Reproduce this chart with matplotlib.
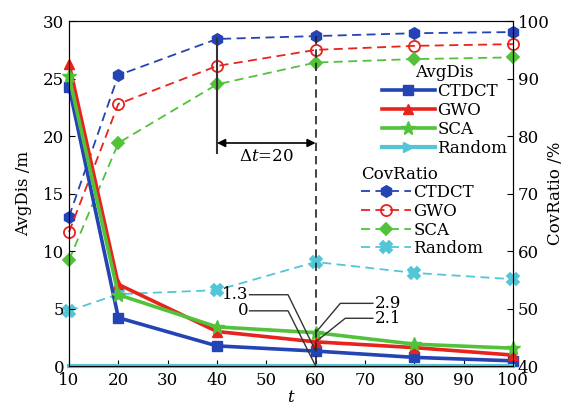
import numpy as np
import matplotlib.pyplot as plt
from matplotlib.lines import Line2D

plt.rcParams['font.family'] = 'DejaVu Serif'
plt.rcParams['mathtext.fontset'] = 'dejavuserif'
plt.rcParams['font.size'] = 12

t = [10, 20, 40, 60, 80, 100]

# AvgDis /m (left axis)
dis_ctdct = [24.3, 4.2, 1.75, 1.3, 0.75, 0.45]
dis_gwo = [26.3, 7.1, 3.0, 2.1, 1.6, 0.95]
dis_sca = [25.2, 6.2, 3.4, 2.9, 1.9, 1.55]
dis_random = [0, 0, 0, 0, 0, 0]

# CovRatio /% (right axis)
cov_ctdct = [66.0, 90.6, 96.9, 97.4, 97.9, 98.1]
cov_gwo = [63.3, 85.6, 92.2, 95.0, 95.7, 96.0]
cov_sca = [58.4, 78.8, 89.0, 92.8, 93.4, 93.7]
cov_random = [49.6, 52.5, 53.2, 58.1, 56.2, 55.1]

names = ['CTDCT', 'GWO', 'SCA', 'Random']
colors = ['#2443b4', '#e8231e', '#52c23a', '#52c6d6']
dis_markers = ['s', '^', '*', '>']
cov_markers = ['h', 'o', 'D', 'X']

fig = plt.figure(figsize=(5.77, 4.13), dpi=100)
ax1 = fig.add_axes([0.1196, 0.1138, 0.7694, 0.835])
ax2 = ax1.twinx()
ax1.set_zorder(ax2.get_zorder() + 1)
ax1.patch.set_visible(False)

dis_all = [dis_ctdct, dis_gwo, dis_sca, dis_random]
cov_all = [cov_ctdct, cov_gwo, cov_sca, cov_random]

cov_handles = []
for vals, c, m in zip(cov_all, colors, cov_markers):
    face = 'none' if m == 'o' else c
    h, = ax2.plot(t, vals, linestyle=(0, (5, 3)), color=c, lw=1.3, marker=m,
                  markersize=8 if m != 'D' else 6.5, markerfacecolor=face,
                  markeredgecolor=c, markeredgewidth=1.3, clip_on=False)
    cov_handles.append(h)

dis_handles = []
for vals, c, m in zip(dis_all, colors, dis_markers):
    ms = 10 if m == '*' else 7.5
    if m == '>':
        ax1.plot(t, vals, color=c, lw=3, clip_on=False)
        h = Line2D([], [], color=c, lw=3, marker=m, markersize=ms)
    else:
        h, = ax1.plot(t, vals, color=c, lw=2.6, marker=m, markersize=ms, clip_on=False)
    dis_handles.append(h)

ax1.set_xlim(10, 100)
ax1.set_ylim(0, 30)
ax2.set_ylim(40, 100)
ax1.set_xticks(np.arange(10, 101, 10))
ax1.set_yticks(np.arange(0, 31, 5))
ax2.set_yticks(np.arange(40, 101, 10))
ax1.tick_params(direction='in', length=4, top=False)
ax2.tick_params(direction='in', length=4)
ax1.tick_params(axis='x', pad=4)

ax1.set_xlabel('$t$', labelpad=0)
ax1.set_ylabel('AvgDis /m', labelpad=8)
ax2.set_ylabel('CovRatio /%', labelpad=-2)


def cov_to_dis(v):
    return (v - 40) / 60 * 30


# vertical guide lines and the delta-t arrow
ax1.plot([40, 40], [cov_to_dis(cov_ctdct[2]), 18.5], color='#333333', lw=1.5)
ax1.plot([60, 60], [cov_to_dis(cov_ctdct[3]), 0], color='#222222', lw=1.2,
         linestyle=(0, (5, 3)))
ax1.annotate('', xy=(40, 19.4), xytext=(60, 19.4),
             arrowprops=dict(arrowstyle='<|-|>', color='black', lw=1.2,
                             shrinkA=0, shrinkB=0, mutation_scale=12))
ax1.text(50, 18.2, r'$\Delta t$=20', ha='center', va='center')

# value callouts: text, horizontal leader, then a slanted line to the point
callouts = [
    ('1.3', dis_ctdct[3], 46.6, 6.2, 54.4, 'right'),
    ('0', dis_random[3], 46.6, 4.8, 54.4, 'right'),
    ('2.9', dis_sca[3], 71.6, 5.45, 65.0, 'left'),
    ('2.1', dis_gwo[3], 71.6, 4.15, 66.0, 'left'),
]
for label, yv, tx, ty, kx, ha in callouts:
    ax1.plot([tx, kx, 60], [ty, ty, yv], color='#333333', lw=1.0, zorder=5)
    ax1.text(tx + (-0.3 if ha == 'right' else 0.3), ty, label, ha=ha, va='center')

leg1 = ax1.legend(dis_handles, names, title='AvgDis', loc='upper right',
                  bbox_to_anchor=(1.01, 0.905), frameon=False, labelspacing=0.12,
                  handlelength=3.2, handletextpad=0.15, borderpad=0.1,
                  title_fontsize=12)
ax1.add_artist(leg1)
leg2 = ax1.legend(cov_handles, names, title='CovRatio', loc='upper left',
                  bbox_to_anchor=(0.635, 0.61), frameon=False, labelspacing=0.1,
                  handlelength=3.0, handletextpad=0.15, borderpad=0.1,
                  title_fontsize=12)
leg2._legend_box.align = 'left'

fig.savefig('out.png', dpi=100)
